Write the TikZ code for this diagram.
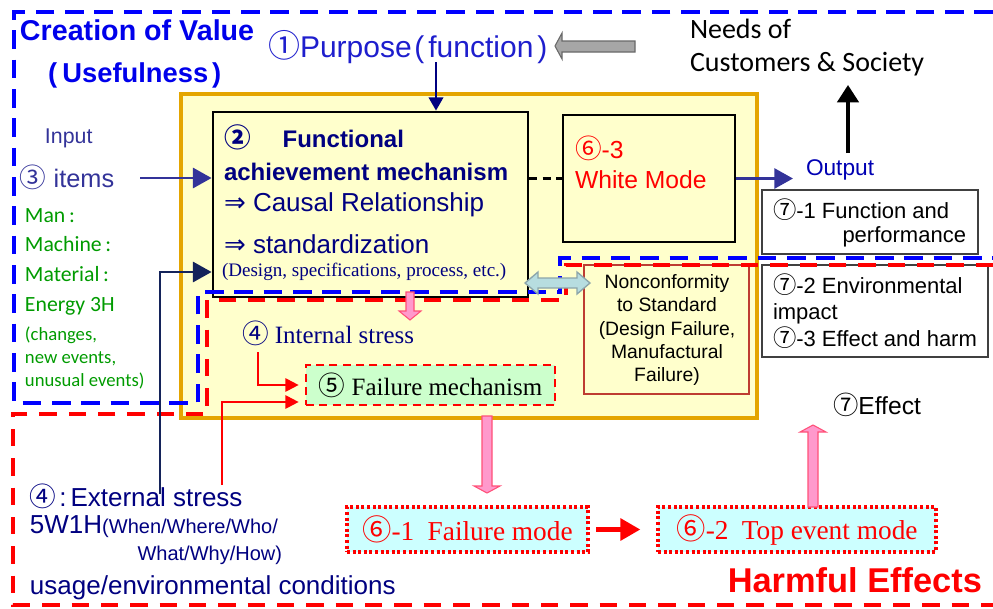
\documentclass[tikz,border=0pt]{standalone}
\usepackage{fontspec}
\setmainfont{Liberation Sans}
\newfontfamily\serifF{Liberation Serif}
\newfontfamily\calF{Carlito}
\newfontfamily\dvs{DejaVu Sans}
\newfontfamily\cjk{Noto Sans CJK JP}
\usetikzlibrary{arrows.meta,fit,calc}

\newcommand{\fz}[2]{\fontsize{#1}{#2}\selectfont}
% circled digit set in a CJK face at a given size
\newcommand{\cdig}[2]{{\cjk\fontsize{#1}{#1}\selectfont #2}}

\definecolor{cvblue}{RGB}{0,0,235}
\definecolor{dashblue}{RGB}{0,0,255}
\definecolor{purp}{RGB}{30,30,205}
\definecolor{navyT}{RGB}{0,0,128}
\definecolor{itemsC}{RGB}{51,51,153}
\definecolor{greenT}{RGB}{0,155,0}
\definecolor{redT}{RGB}{255,0,0}
\definecolor{yfill}{RGB}{255,255,204}
\definecolor{orangeB}{RGB}{228,165,0}
\definecolor{pinkF}{RGB}{255,153,204}
\definecolor{pinkD}{RGB}{255,80,120}
\definecolor{greyF}{RGB}{166,166,166}
\definecolor{greyD}{RGB}{105,105,105}
\definecolor{lbF}{RGB}{183,221,224}
\definecolor{lbD}{RGB}{140,165,170}
\definecolor{fmF}{RGB}{204,255,204}
\definecolor{cyF}{RGB}{204,255,255}
\definecolor{extnavy}{RGB}{20,35,90}
\definecolor{ncD}{RGB}{190,60,50}

\tikzset{
  lbl/.style={inner sep=0pt, outer sep=0pt},
  framebox/.style={draw=orangeB, fill=yfill, line width=2.3pt, inner sep=0pt},
  blackbox/.style={draw=black, line width=2.1pt, inner sep=0pt},
  plainbox/.style={draw=black!75, fill=white, line width=1pt, inner sep=0pt},
  ncbox/.style={draw=ncD, fill=yfill, line width=0.9pt, inner sep=0pt},
  fmbox/.style={draw=redT, fill=fmF, line width=2pt, dash pattern=on 6pt off 4pt, inner sep=0pt},
  modebox/.style={draw=redT, fill=cyF, line width=2.4pt, dash pattern=on 2.2pt off 2pt, inner sep=0pt},
  bluedash/.style={draw=dashblue, line width=3pt, dash pattern=on 14pt off 8pt},
  reddash/.style={draw=redT, line width=3pt, dash pattern=on 13pt off 9pt},
  navyarrow/.style={draw=itemsC, line width=2.2pt, -{Triangle[length=14pt,width=15pt]}},
  thinnavy/.style={draw=navyT, line width=1.6pt, -{Triangle[length=10pt,width=11pt]}},
  redarrow/.style={draw=redT, line width=1.5pt, -{Triangle[length=10pt,width=10pt]}},
  pinkblock/.style={draw=pinkD, fill=pinkF, line width=0.8pt},
}

\begin{document}
\begin{tikzpicture}[x=0.75pt,y=-0.75pt]
\useasboundingbox (0,0) rectangle (993,608);

% frames and boxes
\node[framebox, fit={(181,94)(757,418)}] (frame) {};
\node[blackbox, fit={(213,112)(528,297)}] (mech) {};
\node[blackbox, fit={(563,115)(735,242)}] (white) {};
\node[plainbox, fit={(762,190)(978,254)}] (perf) {};
\node[plainbox, fit={(762,265)(988,357)}] (env) {};
\node[ncbox, fit={(584,265)(749,394)}] (nonconf) {};
\node[fmbox, fit={(306,365)(555,405)}] (fmech) {};
\node[modebox, fit={(347,507)(588,552)}] (fmode) {};
\node[modebox, fit={(658,507)(936,552)}] (tmode) {};

% value creation region (blue) and harmful effects region (red)
\draw[bluedash] (993,12) -- (14,12) -- (14,403) -- (198,403) -- (198,292) -- (560,292) -- (560,258) -- (993,258);
\draw[reddash] (993,265) -- (566,265) -- (566,300) -- (207,300) -- (207,414) -- (13,414) -- (13,605) -- (993,605);

% headings
\node[lbl, anchor=west, text=cvblue, font=\fz{21.5}{24}\bfseries] (cv) at (20,30) {Creation of Value};
\node[lbl, anchor=west, text=cvblue, font=\fz{20.5}{24}\bfseries] (useful) at (48,75) {(\hspace{4pt}Usefulness\hspace{3pt})};
\node[lbl, anchor=west, text=purp, font=\fz{22.5}{24}] (purpose) at (268,47) {\cdig{24}{①}Purpose\hspace{2pt}(\hspace{3pt}function\hspace{3pt})};
\node[lbl, anchor=west, align=left, font=\calF\fz{21}{24.75}] (needs) at (690,48) {Needs of\\Customers \& Society};

% input side
\node[lbl, anchor=west, text=itemsC, font=\fz{16}{20}] (input) at (45,138) {Input};
\node[lbl, anchor=west, text=itemsC, font=\fz{19}{22}] (items) at (20,177) {\cdig{20}{③} items};
\node[lbl, anchor=west, align=left, text=greenT, font=\calF\fz{16.3}{22.3}] (res) at (25,261.5) {Man\,:\\Machine\,:\\Material\,:\\Energy 3H};
\node[lbl, anchor=west, align=left, text=greenT, font=\calF\fz{14}{17}] (res2) at (25,358) {(changes,\\new events,\\unusual events)};

% functional achievement mechanism
\node[lbl, anchor=west, text=navyT, font=\fz{18}{20}\bfseries] (m1) at (224,137) {\cdig{20}{②}\hspace{24pt}Functional};
\node[lbl, anchor=west, text=navyT, font=\fz{18}{20}\bfseries] (m2) at (224,172) {achievement mechanism};
\node[lbl, anchor=west, text=navyT, font=\fz{19.5}{22}] (m3) at (224,205) {{\dvs ⇒} Causal Relationship};
\node[lbl, anchor=west, text=navyT, font=\fz{19.5}{22}] (m4) at (224,244) {{\dvs ⇒} standardization};
\node[lbl, anchor=west, text=navyT, font=\serifF\fz{14.3}{16}] (m5) at (222,272) {(Design, specifications, process, etc.)};

% white mode
\node[lbl, anchor=west, text=redT, font=\fz{18.5}{22}] (w1) at (575,148) {\cdig{20}{⑥}-3};
\node[lbl, anchor=west, text=redT, font=\fz{18.5}{22}] (w2) at (575,180) {White Mode};

% output side
\node[lbl, anchor=west, text=navyT!60!blue, font=\fz{17}{20}] (output) at (806,170) {Output};
\node[lbl, anchor=west, font=\fz{16.5}{20}] (p1) at (773,210) {\cdig{17.5}{⑦}-1 Function and};
\node[lbl, anchor=east, font=\fz{16.5}{20}] (p2) at (966,237) {performance};
\node[lbl, anchor=west, align=left, font=\fz{16.5}{19.9}] (envt) at (773,311) {\cdig{17.5}{⑦}-2 Environmental\\impact\\\cdig{17.5}{⑦}-3 Effect and harm};
\node[lbl, align=center, font=\fz{14.5}{17.6}] (nct) at (667,330) {Nonconformity\\to Standard\\(Design Failure,\\Manufactural\\Failure)};

% stresses and failure chain
\node[lbl, anchor=west, text=navyT, font=\serifF\fz{18.7}{22}] (istress) at (242,333) {\cdig{20}{④} Internal stress};
\node[lbl, text=black, font=\serifF\fz{18.7}{22}] (fmt) at (fmech.center) {\cdig{20}{⑤} Failure mechanism};
\node[lbl, text=redT, font=\serifF\fz{20.5}{24}] (fmodet) at (fmode.center) {\cdig{22}{⑥}-1\hspace{10pt}Failure mode};
\node[lbl, text=redT, font=\serifF\fz{20.5}{24}] (tmodet) at (tmode.center) {\cdig{22}{⑥}-2\hspace{10pt}Top event mode};
\node[lbl, anchor=west, font=\fz{18.5}{22}] (effect) at (833,405) {\cdig{19}{⑦}Effect};
\node[lbl, anchor=east, text=redT, font=\fz{25.8}{30}\bfseries] (harm) at (982,580) {Harmful Effects};

% external stress
\node[lbl, anchor=west, text=navyT, font=\fz{19.5}{22}] (ext1) at (30,496) {\cdig{20}{④}\hspace{2pt}:\hspace{3pt}External stress};
\node[lbl, anchor=west, text=navyT, font=\fz{15}{18}] (ext2) at (30,527) {{\fz{19.5}{22}5W1H}(When/Where/Who/};
\node[lbl, anchor=east, text=navyT, font=\fz{15}{18}] (ext3) at (282,555) {What/Why/How)};
\node[lbl, anchor=west, text=navyT, font=\fz{19.5}{22}] (ext4) at (30,588) {usage/environmental conditions};

% connectors
\coordinate (pdown) at (436,62);
\draw[thinnavy] (pdown) -- (pdown |- mech.north);
\coordinate (itemsout) at (140,178);
\draw[navyarrow] (itemsout) -- (mech.west |- itemsout);
\draw[black, line width=2.2pt, dash pattern=on 6pt off 4pt] (mech.east |- white.west) -- (white.west);
\draw[navyarrow] (white.east) -- ($(white.east -| output.west)+(-13,0)$);
\coordinate (needsup) at (848,153);
\draw[black, line width=2.6pt, -{Triangle[length=13pt,width=16pt]}] (needsup) -- (848,85);
\coordinate (xnavy) at (160,494);
\draw[draw=extnavy, line width=2.2pt, -{Triangle[length=14pt,width=15pt]}] (xnavy) |- (mech.west |- 0,272);
\coordinate (xred) at (222,485);
\draw[redarrow] (xred) |- ($(fmech.west |- 0,402)+(-6,0)$);
\coordinate (isdown) at (258,352);
\draw[redarrow] (isdown) |- ($(fmech.west |- 0,385)+(-6,0)$);
\draw[draw=redT, line width=3.7pt, -{Triangle[length=15pt,width=16pt]}, shorten <=5pt, shorten >=12pt] (fmode.east) -- (tmode.west);

% block arrows
\draw[draw=greyD, fill=greyF, line width=0.8pt] (635,41) -- (562,41) -- (562,33) -- (555,46) -- (562,59) -- (562,52) -- (635,52) -- cycle;
\draw[pinkblock] (406,292) -- (414,292) -- (414,311) -- (421,311) -- (410,320) -- (399,311) -- (406,311) -- cycle;
\draw[pinkblock] (482,416) -- (492,416) -- (492,486) -- (500,486) -- (487,493) -- (474,486) -- (482,486) -- cycle;
\draw[pinkblock] (808,507) -- (818,507) -- (818,432) -- (826,432) -- (813,425) -- (800,432) -- (808,432) -- cycle;
\draw[draw=lbD, fill=lbF, line width=1pt] (525,283) -- (538,272) -- (538,278) -- (577,278) -- (577,272) -- (590,283) -- (577,294) -- (577,288) -- (538,288) -- (538,294) -- cycle;
\end{tikzpicture}
\end{document}
